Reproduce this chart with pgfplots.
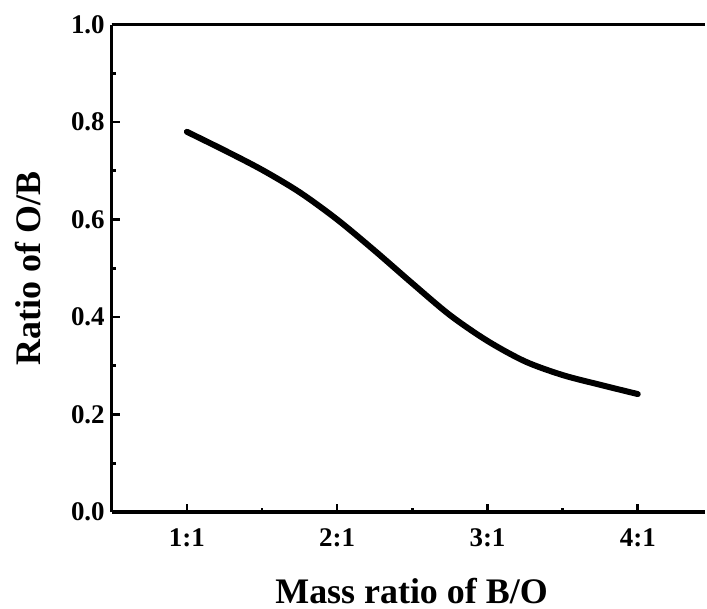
\documentclass[border=0pt]{standalone}
\usepackage{fontspec}
\setmainfont{Liberation Serif}
\usepackage{pgfplots}
\pgfplotsset{compat=1.18}
\begin{document}
\begin{tikzpicture}
\begin{axis}[
  width=297.5pt, height=244.3pt,
  scale only axis,
  xmin=0.5, xmax=4.45,
  ymin=0, ymax=1,
  axis x line*=box,
  axis y line*=left,
  axis line style={line width=1.6pt},
  xtick={1,2,3,4},
  xticklabels={1:1,2:1,3:1,4:1},
  minor xtick={1.5,2.5,3.5},
  ytick={0,0.2,0.4,0.6,0.8,1.0},
  minor ytick={0.1,0.3,0.5,0.7,0.9},
  xtick pos=bottom, ytick pos=left,
  tick align=inside,
  major tick length=4pt, minor tick length=2pt,
  every tick/.style={line width=1.3pt, black},
  /pgf/number format/fixed,
  /pgf/number format/fixed zerofill,
  /pgf/number format/precision=1,
  /pgf/number format/assume math mode=true,
  ticklabel style={font=\fontsize{13.5}{15}\selectfont\bfseries},
  xticklabel style={yshift=-5pt},
  xlabel={Mass ratio of B/O},
  ylabel={Ratio of O/B},
  label style={font=\fontsize{18}{21}\selectfont\bfseries, inner sep=0pt},
  xlabel style={at={(axis description cs:0.505,0)}, anchor=base, yshift=-46pt},
  ylabel style={at={(axis description cs:0,0.5)}, anchor=center, yshift=42pt},
  clip=false,
]
\addplot[black, line width=3pt, smooth, line cap=round] coordinates {
  (1.00,0.780)
  (1.25,0.742)
  (1.50,0.702)
  (1.75,0.656)
  (2.00,0.600)
  (2.25,0.536)
  (2.50,0.469)
  (2.75,0.404)
  (3.00,0.351)
  (3.25,0.309)
  (3.50,0.281)
  (3.75,0.261)
  (4.00,0.242)
};
\path (axis description cs:0,0) ++(-56pt,-48.4pt);
\path (axis description cs:1,1) ++(0pt,12.3pt);
\end{axis}
\end{tikzpicture}
\end{document}
